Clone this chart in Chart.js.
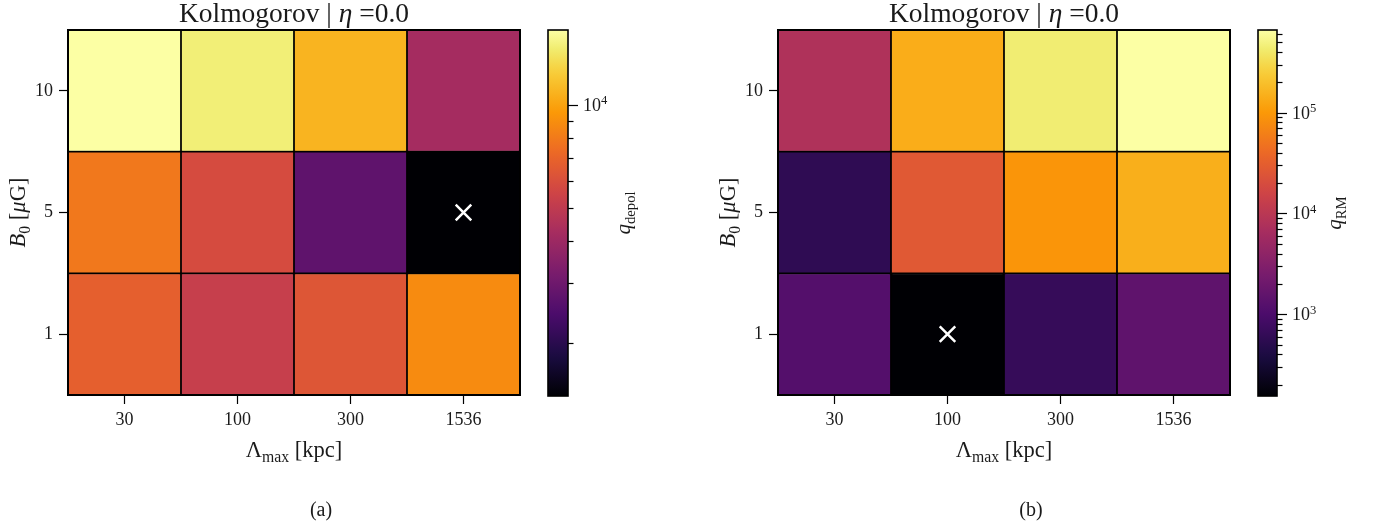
<!DOCTYPE html>
<html>
<head>
<meta charset="utf-8">
<script src="https://cdn.jsdelivr.net/npm/chart.js@4.4.1/dist/chart.umd.min.js"></script>
<style>
  body { margin: 0; background: #fff; width: 1374px; height: 531px; position: relative; overflow: hidden; }
  canvas { position: absolute; top: 0; }
</style>
</head>
<body>
<canvas id="mapA" width="540" height="531" style="left:0px"></canvas>
<canvas id="barA" width="120" height="531" style="left:540px"></canvas>
<canvas id="mapB" width="540" height="531" style="left:710px"></canvas>
<canvas id="barB" width="124" height="531" style="left:1250px"></canvas>
<script>
// categories
const LAMBDA = ['30', '100', '300', '1536'];
const B0_TICKS = ['1', '5', '10'];

// q_depol, one array per B0 row
const DEPOL_B1 = [6745, 5215, 6310, 8810];
const DEPOL_B5 = [7925, 5845, 2735, 1400];
const DEPOL_B10 = [16600, 14900, 10930, 4207];

// q_RM, one array per B0 row
const RM_B1 = [1190, 155, 658, 1490];
const RM_B5 = [581, 27100, 94200, 149000];
const RM_B10 = [7940, 143000, 439000, 660000];

const SERIF = "'Liberation Serif', 'DejaVu Serif', serif";
const TXT = '#1a1a1a';

// inferno colormap anchors [t, colour]
const INFERNO = [
    [0.000, '#000004'], [0.111, '#1b0c42'], [0.222, '#4b0c6b'], [0.333, '#781c6d'],
    [0.444, '#a52c60'], [0.556, '#cf4446'], [0.667, '#ed6925'], [0.778, '#fb9a06'],
    [0.889, '#f7d03c'], [0.950, '#f1ed71'], [1.000, '#fcffa4']
];

function hexRgb(h) {
    return [1, 3, 5].map(k => parseInt(h.substr(k, 2), 16));
}

function inferno(t) {
    t = Math.max(0, Math.min(1, t));
    let i = 0;
    while (i < INFERNO.length - 2 && t > INFERNO[i + 1][0]) i++;
    const [t0, c0] = INFERNO[i], [t1, c1] = INFERNO[i + 1];
    const f = (t - t0) / (t1 - t0);
    const a = hexRgb(c0), b = hexRgb(c1);
    const c = a.map((x, k) => Math.round(x + (b[k] - x) * f));
    return `rgb(${c[0]},${c[1]},${c[2]})`;
}

// text made of segments (italic / sub / sup); baseline at y, centred on x unless left
function drawRich(ctx, segs, x, y, size, rot, left) {
    const font = (s, it) => `${it ? 'italic ' : ''}${s}px ${SERIF}`;
    let w = 0;
    const parts = segs.map(s => {
        const sz = (s.sub || s.sup) ? size * 0.7 : size;
        ctx.font = font(sz, s.it);
        const pw = ctx.measureText(s.t).width;
        w += pw;
        return { ...s, sz, pw };
    });
    ctx.save();
    ctx.translate(x, y);
    if (rot) ctx.rotate(rot);
    ctx.fillStyle = TXT;
    ctx.textBaseline = 'alphabetic';
    ctx.textAlign = 'left';
    let cx = left ? 0 : -w / 2;
    parts.forEach(p => {
        ctx.font = font(p.sz, p.it);
        ctx.fillText(p.t, cx, p.sub ? size * 0.22 : p.sup ? -size * 0.38 : 0);
        cx += p.pw;
    });
    ctx.restore();
}

const TITLE = [{ t: 'Kolmogorov | ' }, { t: 'η', it: true }, { t: ' =0.0' }];
const XLABEL = [{ t: 'Λ' }, { t: 'max', sub: true }, { t: ' [kpc]' }];
const YLABEL = [{ t: 'B', it: true }, { t: '0', sub: true }, { t: ' [' }, { t: 'μ', it: true }, { t: 'G]' }];

function heatmap(id, rows, caption) {
    const all = rows.flat();
    const lo = Math.log10(Math.min(...all)), hi = Math.log10(Math.max(...all));
    const norm = v => (Math.log10(v) - lo) / (hi - lo);

    // cell with the smallest value gets the cross
    let mi = 0, mj = 0;
    rows.forEach((r, i) => r.forEach((v, j) => {
        if (v < rows[mi][mj]) { mi = i; mj = j; }
    }));

    const datasets = rows.map((r, i) => ({
        type: 'bar',
        data: r.map(() => [i, i + 1]),
        backgroundColor: r.map(v => inferno(norm(v))),
        borderColor: '#000',
        borderWidth: 1.2,
        borderSkipped: false,
        barPercentage: 1,
        categoryPercentage: 1,
        grouped: false,
        order: 1
    }));
    datasets.unshift({
        type: 'line',
        data: [{ x: LAMBDA[mj], y: mi + 0.5 }],
        showLine: false,
        pointStyle: 'crossRot',
        pointRadius: 11,
        borderColor: '#fff',
        borderWidth: 2.5,
        order: 0
    });

    const deco = {
        id: 'deco',
        afterDatasetsDraw(chart) {
            const { ctx, chartArea: a } = chart;
            ctx.save();
            ctx.strokeStyle = '#000';
            ctx.lineWidth = 2;
            ctx.strokeRect(a.left, a.top, a.right - a.left, a.bottom - a.top);
            ctx.restore();
        },
        afterDraw(chart) {
            const { ctx, chartArea: a } = chart;
            const mid = (a.left + a.right) / 2;
            drawRich(ctx, TITLE, mid, 22, 27.5);
            drawRich(ctx, XLABEL, mid, 457, 22.5);
            drawRich(ctx, YLABEL, 25, (a.top + a.bottom) / 2, 22.5, -Math.PI / 2);
            drawRich(ctx, [{ t: caption }], 321, 516, 20);
        }
    };

    const tickFont = { family: SERIF, size: 18 };
    new Chart(document.getElementById(id), {
        type: 'bar',
        data: { labels: LAMBDA, datasets },
        options: {
            responsive: false,
            animation: false,
            events: [],
            layout: { padding: { top: 30, left: 0, right: 20, bottom: 96 } },
            plugins: { legend: { display: false }, tooltip: { enabled: false } },
            scales: {
                x: {
                    type: 'category',
                    offset: true,
                    grid: { offset: false, drawOnChartArea: false, tickLength: 9, tickColor: '#000', tickWidth: 1.2 },
                    border: { display: false },
                    ticks: { font: tickFont, color: TXT, padding: 5, maxRotation: 0 },
                    afterFit: s => { s.height = 40; }
                },
                y: {
                    type: 'linear',
                    min: 0,
                    max: 3,
                    afterBuildTicks: s => { s.ticks = B0_TICKS.map((_, i) => ({ value: i + 0.5 })); },
                    grid: { drawOnChartArea: false, tickLength: 9, tickColor: '#000', tickWidth: 1.2 },
                    border: { display: false },
                    ticks: { font: tickFont, color: TXT, padding: 6, callback: (v, i) => B0_TICKS[i] },
                    afterFit: s => { s.width = 68; }
                }
            }
        },
        plugins: [deco]
    });
}

function colorbar(id, rows, label, labelX, barW) {
    const all = rows.flat();
    const vmin = Math.min(...all), vmax = Math.max(...all);
    const canvas = document.getElementById(id);

    const logTicks = [];
    for (let e = Math.floor(Math.log10(vmin)); e <= Math.ceil(Math.log10(vmax)); e++) {
        for (let k = 1; k <= 9; k++) {
            const v = k * Math.pow(10, e);
            if (v >= vmin && v <= vmax) logTicks.push({ value: v, major: k === 1, exp: e });
        }
    }

    const deco = {
        id: 'cbar',
        afterDraw(chart) {
            const { ctx, chartArea: a } = chart;
            const ys = chart.scales.y;
            ctx.save();
            ctx.strokeStyle = '#000';
            ctx.lineWidth = 1.6;
            ctx.strokeRect(a.left, a.top, a.right - a.left, a.bottom - a.top);
            ctx.lineWidth = 1.2;
            logTicks.forEach(t => {
                const y = Math.round(ys.getPixelForValue(t.value)) + 0.5;
                ctx.beginPath();
                ctx.moveTo(a.right, y);
                ctx.lineTo(a.right + (t.major ? 10 : 5.5), y);
                ctx.stroke();
            });
            ctx.restore();
            logTicks.filter(t => t.major).forEach(t => {
                const y = ys.getPixelForValue(t.value);
                drawRich(ctx, [{ t: '10' }, { t: String(t.exp), sup: true }], a.right + 15, y + 6, 18, 0, true);
            });
            drawRich(ctx, label, labelX, (a.top + a.bottom) / 2, 21, -Math.PI / 2);
        }
    };

    new Chart(canvas, {
        type: 'bar',
        data: {
            labels: [''],
            datasets: [{
                data: [[vmin, vmax]],
                backgroundColor: c => {
                    const a = c.chart.chartArea;
                    if (!a) return '#000';
                    const g = c.chart.ctx.createLinearGradient(0, a.bottom, 0, a.top);
                    for (let k = 0; k <= 40; k++) g.addColorStop(k / 40, inferno(k / 40));
                    return g;
                },
                borderWidth: 0,
                barPercentage: 1,
                categoryPercentage: 1
            }]
        },
        options: {
            responsive: false,
            animation: false,
            events: [],
            layout: { padding: { top: 30, bottom: 135, left: 8, right: 0 } },
            plugins: { legend: { display: false }, tooltip: { enabled: false } },
            scales: {
                x: { display: false },
                y: {
                    type: 'logarithmic',
                    position: 'right',
                    min: vmin,
                    max: vmax,
                    grid: { display: false },
                    border: { display: false },
                    afterBuildTicks: s => { s.ticks = logTicks.map(t => ({ value: t.value, major: t.major })); },
                    ticks: { display: false },
                    afterFit: s => { s.width = canvas.width - 8 - barW; }
                }
            }
        },
        plugins: [deco]
    });
}

const depolRows = [DEPOL_B1, DEPOL_B5, DEPOL_B10];
const rmRows = [RM_B1, RM_B5, RM_B10];

heatmap('mapA', depolRows, '(a)');
colorbar('barA', depolRows, [{ t: 'q', it: true }, { t: 'depol', sub: true }], 90, 20);
heatmap('mapB', rmRows, '(b)');
colorbar('barB', rmRows, [{ t: 'q', it: true }, { t: 'RM', sub: true }], 91, 19);
</script>
</body>
</html>
